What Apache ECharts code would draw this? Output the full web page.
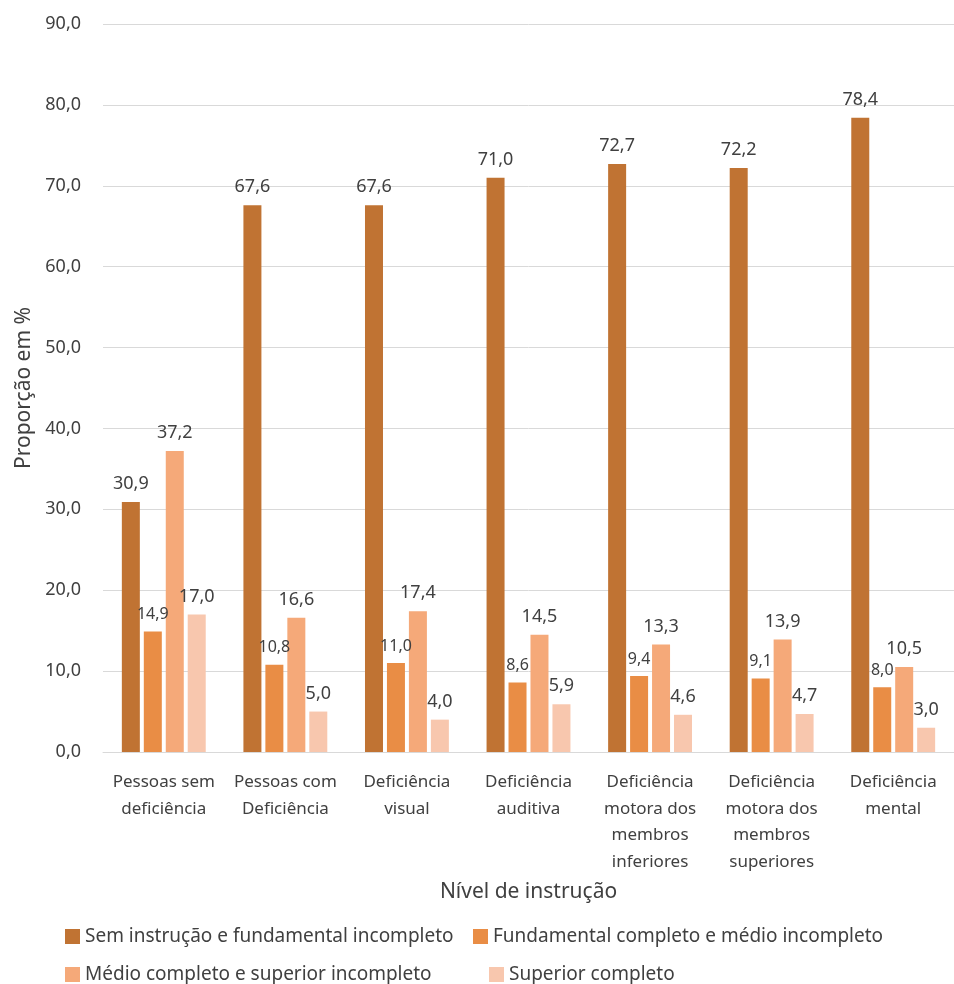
<!DOCTYPE html>
<html>
<head>
<meta charset="utf-8">
<script src="https://cdn.jsdelivr.net/npm/echarts@6/dist/echarts.min.js"></script>
<style>
  html, body { margin: 0; padding: 0; background: #fff; }
  #chart { width: 954px; height: 984px; }
</style>
</head>
<body>
<div id="chart"></div>
<script>
// categorias do eixo x
const categorias = [
    'Pessoas sem\ndeficiência',
    'Pessoas com\nDeficiência',
    'Deficiência\nvisual',
    'Deficiência\nauditiva',
    'Deficiência\nmotora dos\nmembros\ninferiores',
    'Deficiência\nmotora dos\nmembros\nsuperiores',
    'Deficiência\nmental'
];
const nomesSeries = [
    'Sem instrução e fundamental incompleto',
    'Fundamental completo e médio incompleto',
    'Médio completo e superior incompleto',
    'Superior completo'
];
// valores por nível de instrução
const semInstrucao = [30.9, 67.6, 67.6, 71.0, 72.7, 72.2, 78.4];
const fundamental = [14.9, 10.8, 11.0, 8.6, 9.4, 9.1, 8.0];
const medio = [37.2, 16.6, 17.4, 14.5, 13.3, 13.9, 10.5];
const superior = [17.0, 5.0, 4.0, 5.9, 4.6, 4.7, 3.0];
const cores = ['#C07333', '#E98D45', '#F5A979', '#F8C7AE'];

const fonte = '"Noto Sans", sans-serif';
const virgula = v => v.toFixed(1).replace('.', ',');

const chart = echarts.init(document.getElementById('chart'));

const dados = [semInstrucao, fundamental, medio, superior];
const series = dados.map((d, i) => ({
    name: nomesSeries[i],
    type: 'bar',
    data: d,
    barWidth: 18,
    barGap: '22%',
    itemStyle: { color: cores[i] },
    label: {
        show: true,
        position: 'top',
        distance: 9,
        color: '#404040',
        fontFamily: fonte,
        fontSize: i === 1 ? 16 : 18,
        formatter: p => virgula(p.value)
    }
}));

// legenda em duas linhas
const posLegenda = [[60, 922], [468, 922], [60, 960], [484, 960]];
const legendas = nomesSeries.map((n, i) => ({
    data: [n],
    left: posLegenda[i][0],
    top: posLegenda[i][1],
    itemWidth: 15,
    itemHeight: 15,
    icon: 'rect',
    itemGap: 6,
    textStyle: { color: '#404040', fontSize: 19, fontFamily: fonte }
}));

const option = {
    animation: false,
    textStyle: { fontFamily: fonte },
    legend: legendas,
    grid: { left: 103, right: 0, top: 24, bottom: 232, containLabel: false },
    xAxis: {
        type: 'category',
        data: categorias,
        name: 'Nível de instrução',
        nameLocation: 'middle',
        nameGap: 130,
        nameTextStyle: { color: '#404040', fontSize: 21, fontFamily: fonte },
        axisTick: { show: false },
        axisLine: { lineStyle: { color: '#D9D9D9' } },
        axisLabel: {
            color: '#404040',
            fontSize: 17,
            fontFamily: fonte,
            lineHeight: 26.5,
            margin: 17,
            interval: 0
        }
    },
    yAxis: {
        type: 'value',
        min: 0,
        max: 90,
        interval: 10,
        name: 'Proporção em %',
        nameLocation: 'middle',
        nameGap: 67,
        nameTextStyle: { color: '#404040', fontSize: 21, fontFamily: fonte },
        axisLabel: {
            color: '#404040',
            fontSize: 18,
            fontFamily: fonte,
            margin: 22,
            formatter: v => virgula(v)
        },
        splitLine: { lineStyle: { color: '#D9D9D9' } }
    },
    series: series
};

chart.setOption(option);
</script>
</body>
</html>
